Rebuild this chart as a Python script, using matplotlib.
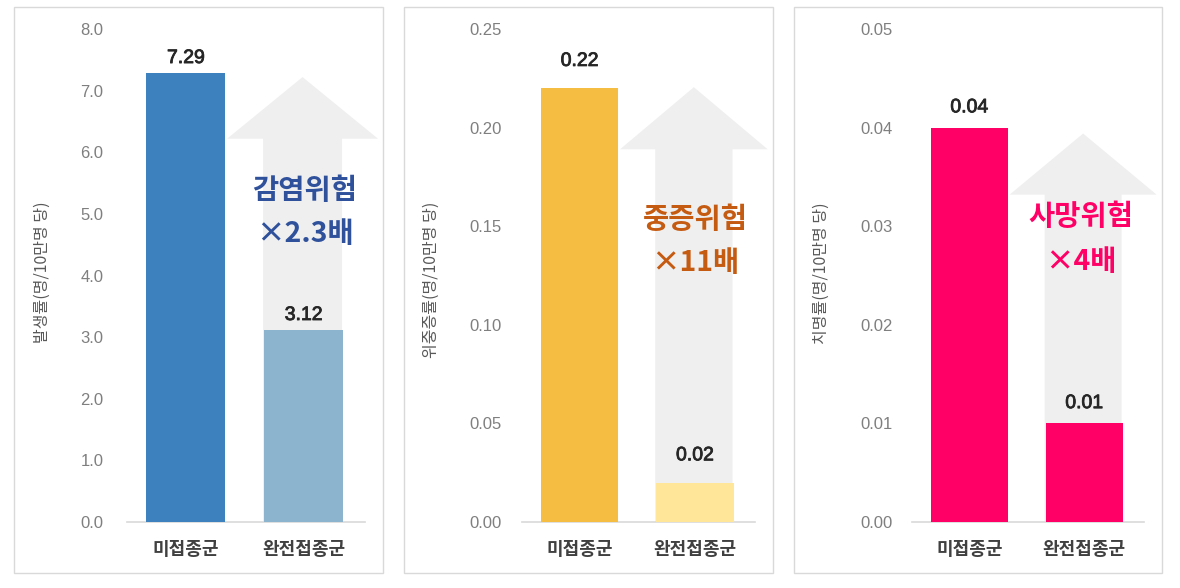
import matplotlib.pyplot as plt
import matplotlib.patheffects as pe
from matplotlib.patches import Polygon, Rectangle

plt.rcParams['font.family'] = ['Noto Sans CJK KR', 'DejaVu Sans']

categories = ['미접종군', '완전접종군']

infect_vals = [7.29, 3.12]
severe_vals = [0.22, 0.02]
death_vals = [0.04, 0.01]

infect_ticks = [0.0, 1.0, 2.0, 3.0, 4.0, 5.0, 6.0, 7.0, 8.0]
severe_ticks = [0.00, 0.05, 0.10, 0.15, 0.20, 0.25]
death_ticks = [0.00, 0.01, 0.02, 0.03, 0.04, 0.05]

ylabels = ['발생률(명/10만명 당)', '위중증률(명/10만명 당)', '치명률(명/10만명 당)']
risk_titles = ['감염위험', '중증위험', '사망위험']
risk_ratios = ['×2.3배', '×11배', '×4배']

# layout in pixels of the 1180x588 canvas, arrow/text heights in data units
panels = [
    dict(vals=infect_vals, ticks=infect_ticks, fmt='{:.1f}',
         colors=['#3D82BE', '#8DB4CF'], text_color='#2F519C',
         left=127, right=365, box=(14, 383), pad=17, ylab=(42, 272),
         head=(7.22, 6.22), text_y=(5.37, 4.68), text_x=1.01, lab_off=7),
    dict(vals=severe_vals, ticks=severe_ticks, fmt='{:.2f}',
         colors=['#F5BD41', '#FFE699'], text_color='#C55A11',
         left=522, right=755, box=(404, 773), pad=14.5, ylab=(431, 280),
         head=(0.2205, 0.189), text_y=(0.1533, 0.1315), text_x=1.0, lab_off=16),
    dict(vals=death_vals, ticks=death_ticks, fmt='{:.2f}',
         colors=['#FF0066', '#FF0066'], text_color='#FF0066',
         left=912, right=1144, box=(794, 1162), pad=14, ylab=(821, 273),
         head=(0.0394, 0.0332), text_y=(0.0309, 0.0264), text_x=0.97, lab_off=11),
]

W, H = 1180, 588
TOP, BASE = 29, 522
fig = plt.figure(figsize=(W / 100, H / 100), dpi=100)

bw = 0.67
for i, p in enumerate(panels):
    # panel frame
    x0, x1 = p['box']
    fig.patches.append(Rectangle((x0 / W, 1 - 573 / H), (x1 - x0) / W, (573 - 7) / H,
                                 transform=fig.transFigure, fill=False,
                                 edgecolor='#D9D9D9', lw=1))
    ax = fig.add_axes([p['left'] / W, 1 - BASE / H,
                       (p['right'] - p['left']) / W, (BASE - TOP) / H])
    x = [0, 1]
    ax.bar(x, p['vals'], width=bw, color=p['colors'], zorder=3)

    # big up arrow behind second bar
    tip, base = p['head']
    cx = 0.99
    hw = 0.64
    pts = [(cx - bw / 2, 0), (cx - bw / 2, base), (cx - hw, base), (cx, tip),
           (cx + hw, base), (cx + bw / 2, base), (cx + bw / 2, 0)]
    ax.add_patch(Polygon(pts, closed=True, facecolor='#EFEFEF', edgecolor='none',
                         zorder=1, clip_on=False))

    for xi, v in zip(x, p['vals']):
        t = ax.annotate('{:.2f}'.format(v), (xi, v), xytext=(0, p['lab_off']),
                        textcoords='offset points', ha='center', va='baseline',
                        fontsize=14, family='Liberation Sans', color='#262626', zorder=4)
        t.set_path_effects([pe.withStroke(linewidth=0.6, foreground='#262626')])

    ax.text(p['text_x'], p['text_y'][0], risk_titles[i], ha='center', va='center',
            fontsize=20.5, fontweight='bold', color=p['text_color'], zorder=4)
    ax.text(p['text_x'], p['text_y'][1], risk_ratios[i], ha='center', va='center',
            fontsize=20.5, fontweight='bold', color=p['text_color'], zorder=4)

    ax.set_xlim(-0.5, 1.52)
    ax.set_ylim(p['ticks'][0], p['ticks'][-1])
    ax.set_yticks(p['ticks'])
    ax.set_yticklabels([p['fmt'].format(t) for t in p['ticks']],
                       family='Liberation Sans')
    ax.set_xticks(x)
    ax.set_xticklabels(categories, fontweight='bold')
    for s in ['top', 'right', 'left']:
        ax.spines[s].set_visible(False)
    ax.spines['bottom'].set_color('#D9D9D9')
    ax.spines['bottom'].set_linewidth(1.2)
    ax.tick_params(axis='y', length=0, pad=p['pad'], labelsize=12, labelcolor='#7F7F7F')
    ax.tick_params(axis='x', length=0, pad=13, labelsize=13, labelcolor='#404040')
    ax.set_facecolor('none')

    fig.text(p['ylab'][0] / W, 1 - p['ylab'][1] / H, ylabels[i], rotation=90,
             ha='center', va='center', fontsize=11.5, color='#595959')

fig.savefig('out.png', dpi=100)
